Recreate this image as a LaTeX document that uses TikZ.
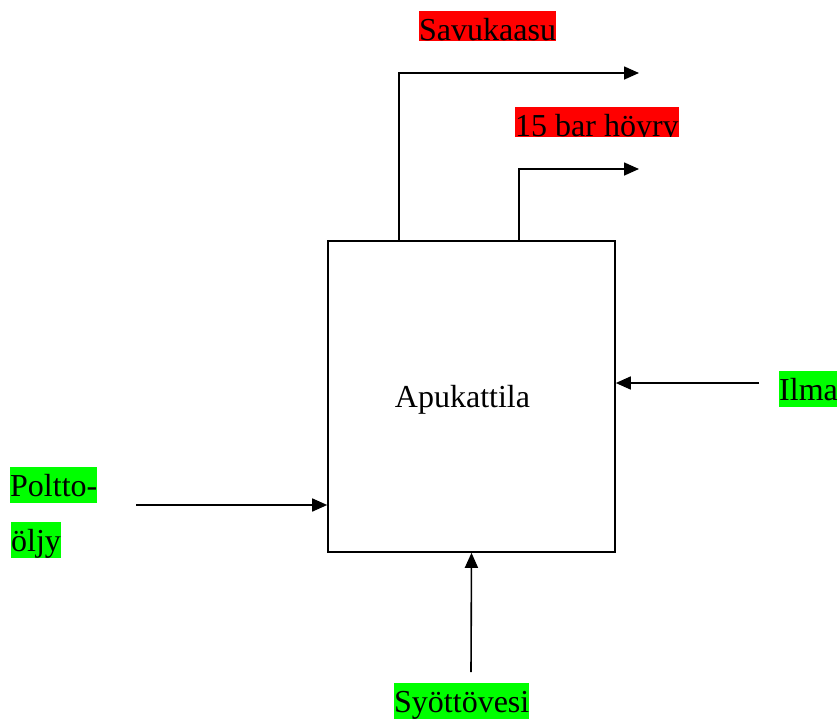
\documentclass[tikz,border=0pt]{standalone}
\usepackage{fontspec}
\setmainfont{Liberation Serif}
\usetikzlibrary{arrows.meta}
\begin{document}
\begin{tikzpicture}[x=1pt,y=-1pt,
  flow/.style={line width=1.6pt,-{Triangle[length=15pt,width=13pt]}},
  big/.style={font=\fontsize{32}{38}\selectfont},
  lab/.style={big,inner sep=0pt,anchor=base west,text height=29pt,text depth=7pt},
  hot/.style={lab,fill=red},
  cold/.style={lab,fill=green}]
\useasboundingbox (0,0) rectangle (837,718);
% boiler block
\node[draw,line width=1.6pt,minimum width=287pt,minimum height=311pt,inner sep=0pt]
  (boiler) at (471.5,396.5) {};
\node[big,inner sep=0pt,anchor=base] (name) at (462.5,407) {Apukattila};
% outgoing streams
\coordinate (flueout) at (639,73);
\coordinate (steamout) at (639,169);
\draw[flow] ([xshift=-72.5pt]boiler.north) |- (flueout);
\draw[flow] ([xshift=47.5pt]boiler.north) |- (steamout);
\begin{scope}
  \clip (419,11) rectangle (556,40);
  \node[hot] (flue) at (419,40) {Savukaasu};
\end{scope}
\begin{scope}
  \clip (515,107) rectangle (679,136);
  \node[hot] (steam) at (515,136) {15 bar höyry};
\end{scope}
% incoming streams
\coordinate (airin) at (759,383);
\coordinate (oilin) at (136,505);
\coordinate (waterin) at (471,672);
\draw[flow] (airin) -- (boiler.east |- airin);
\draw[flow] (oilin) -- (boiler.west |- oilin);
\draw[flow] (waterin) -- (boiler.south);
\node[cold] (air) at (779,400) {Ilma};
\node[cold] (oil1) at (10,496) {Poltto-};
\node[cold] (oil2) at (11,551) {öljy};
\begin{scope}
  \clip (380,683) rectangle (560,718);
  \node[cold] (water) at (394,712) {Syöttövesi};
\end{scope}
\end{tikzpicture}
\end{document}
